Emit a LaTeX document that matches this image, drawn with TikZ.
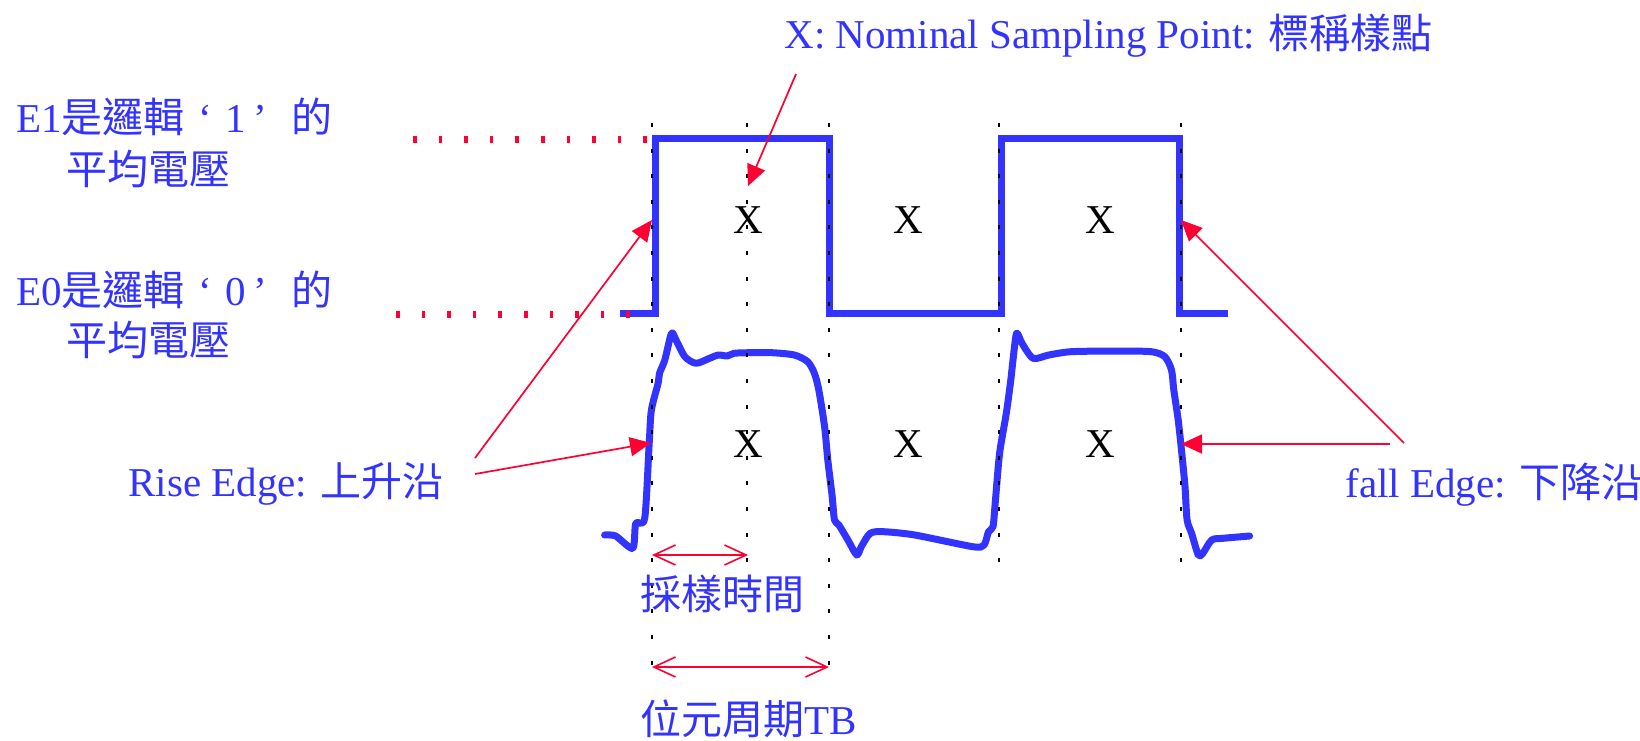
\documentclass[tikz,border=0pt]{standalone}
\usepackage{fontspec}
\setmainfont{Liberation Serif}
\newfontfamily\cjk{Noto Sans CJK TC}
\usetikzlibrary{arrows.meta}
\definecolor{wblue}{RGB}{51,51,255}
\definecolor{ared}{RGB}{255,0,51}
\begin{document}
\begin{tikzpicture}[x=0.5pt,y=-0.5pt,
  lbl/.style={inner sep=0pt, anchor=base west, text=wblue, font=\fontsize{20.5pt}{24pt}\selectfont},
  xmark/.style={inner sep=0pt, anchor=base, font=\fontsize{20.5pt}{24pt}\selectfont},
  wave/.style={draw=wblue, line width=3.5pt},
  gridline/.style={draw=black, line width=0.8pt, dash pattern=on 2pt off 10.8pt},
  level/.style={draw=ared, line width=3.5pt, dash pattern=on 1.75pt off 11.05pt},
  pointer/.style={draw=ared, line width=0.85pt, -{Triangle[length=10.5pt,width=9.5pt]}},
  span/.style={draw=ared, line width=0.8pt, {Straight Barb[length=10.8pt,width=10pt]}-{Straight Barb[length=10.8pt,width=10pt]}},
]
\useasboundingbox (0,0) rectangle (1640,740);

% ideal square wave
\draw[wave] (620,313) -- (655,313) -- (655,138) -- (829,138) -- (829,313)
  -- (1001,313) -- (1001,138) -- (1179,138) -- (1179,313) -- (1228,313);

% real waveform
\draw[wave, line join=round, line cap=round] plot[smooth, tension=0.45] coordinates {
(604.6,535) (615.7,536) (632.7,548.3) (635.8,523.3) (644.7,518.3) (649.2,443.3)
(651.4,410) (658.1,383.3) (659.5,373.3) (664.8,360) (671.5,333.3) (676,340)
(684.9,356.7) (696.1,363.3) (709.5,358.3) (718.4,355) (727.3,356) (734,353.3)
(749.6,352.7) (772,352.7) (794.3,355) (807.7,361.7) (814.4,373.3) (818.8,390)
(824.6,426.7) (827.8,460) (832.2,496.7) (834.5,520) (838.9,525) (847.9,540)
(856.8,555) (861.3,546.7) (870.2,533.3) (883.6,531.7) (914.8,535) (972.9,546.7)
(984,545) (988.5,531.7) (993,526.7) (995.2,503.3) (999.6,453.3) (1006.3,413.3)
(1010.8,380) (1013,360) (1016.6,333.3) (1022,343.3) (1033.1,358.3) (1048.8,355)
(1071,351.7) (1115.7,351) (1151.4,351.7) (1164.8,356.7) (1171.5,370) (1173.8,390)
(1178.2,420) (1181.8,453.3) (1185,486.7) (1187.1,520) (1191.6,533.3) (1198.3,555)
(1202.8,553.3) (1211.7,540) (1222.9,538.3) (1249.6,536)};

% vertical dotted guides
\draw[gridline] (652,123) -- (652,667);
\draw[gridline] (747,123) -- (747,562);
\draw[gridline] (829,123) -- (829,667);
\draw[gridline] (999,123) -- (999,562);
\draw[gridline] (1181,123) -- (1181,562);

% red level lines
\draw[level] (413,139) -- (647,139);
\draw[level] (396,314) -- (630,314);

% X marks
\node[xmark] (x1) at (748,233) {X};
\node[xmark] (x2) at (908,233) {X};
\node[xmark] (x3) at (1100,233) {X};
\node[xmark] (x4) at (748,457) {X};
\node[xmark] (x5) at (908,457) {X};
\node[xmark] (x6) at (1100,457) {X};

% labels
\node[lbl] (title) at (784,48) {X: Nominal Sampling Point: {\cjk 標稱樣點}};
\node[lbl] (e1a) at (16,132) {E1{\cjk 是邏輯}\makebox[1em][c]{‘}1\makebox[1.1em][l]{\,’}{\cjk 的}};
\node[lbl] (e1b) at (66,184) {\cjk 平均電壓};
\node[lbl] (e0a) at (16,305) {E0{\cjk 是邏輯}\makebox[1em][c]{‘}0\makebox[1.1em][l]{\,’}{\cjk 的}};
\node[lbl] (e0b) at (66,355) {\cjk 平均電壓};
\node[lbl] (rise) at (128,496) {Rise Edge: {\cjk 上升沿}};
\node[lbl] (fall) at (1345,497) {fall Edge: {\cjk 下降沿}};
\node[lbl] (samp) at (640,609) {\cjk 採樣時間};
\node[lbl] (tb) at (640,734) {{\cjk 位元周期}TB};

% arrow end points
\coordinate (nomS) at (796,74);
\coordinate (nomT) at (748,186);
\coordinate (riseS1) at (475,458);
\coordinate (riseT1) at (652,220);
\coordinate (riseS2) at (475,474);
\coordinate (riseT2) at (651,443);
\coordinate (fallS1) at (1404,443);
\coordinate (fallT1) at (1181,220);
\coordinate (fallS2) at (1390,444);
\coordinate (fallT2) at (1181,444);
\coordinate (sampL) at (652,555);
\coordinate (sampR) at (748,555);
\coordinate (tbL) at (652,667);
\coordinate (tbR) at (829,667);

\draw[pointer] (nomS) -- (nomT);
\draw[pointer] (riseS1) -- (riseT1);
\draw[pointer] (riseS2) -- (riseT2);
\draw[pointer] (fallS1) -- (fallT1);
\draw[pointer] (fallS2) -- (fallT2);
\draw[span] (sampL) -- (sampR);
\draw[span] (tbL) -- (tbR);
\end{tikzpicture}
\end{document}
